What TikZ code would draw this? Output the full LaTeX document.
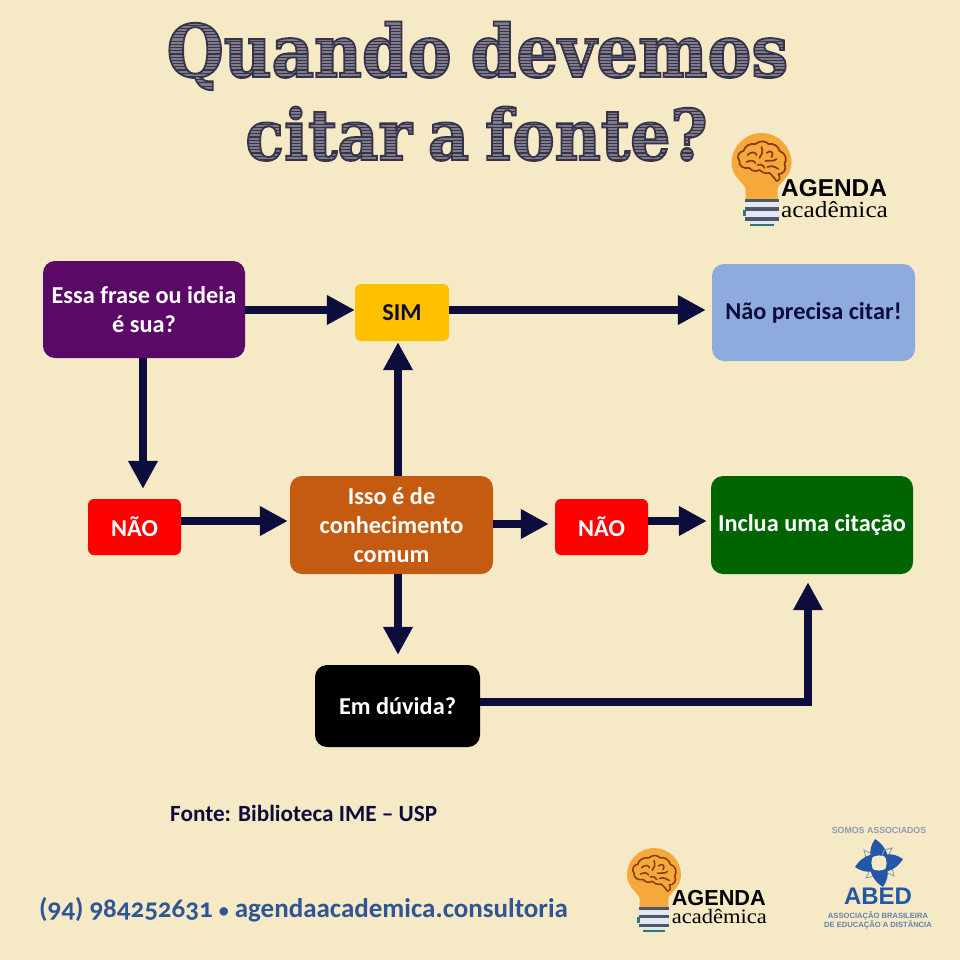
\documentclass[tikz,border=0pt]{standalone}
\usepackage{fontspec}
\usetikzlibrary{arrows.meta}
\newfontfamily\bodyf{Carlito}[Numbers=OldStyle]
\newfontfamily\lsans{Liberation Sans}
\newfontfamily\lserif{Liberation Serif}[FakeStretch=1.1]
\newfontfamily\titlef{DejaVu Serif Condensed}
\definecolor{paper}{HTML}{F5E9C6}
\definecolor{navy}{HTML}{0D0D3D}
\definecolor{bulb}{HTML}{F5A93A}
\definecolor{brain}{HTML}{8A3A12}
\definecolor{abed}{HTML}{2458A6}
\definecolor{abedgray}{HTML}{8E9DB4}
\definecolor{footblue}{HTML}{2F5597}
\definecolor{titlefill}{HTML}{7F7C8A}
\definecolor{bookdark}{HTML}{4A5A6C}
\definecolor{booklight}{HTML}{E6E6F2}
\definecolor{bookteal}{HTML}{2F7A6E}
\definecolor{frasecol}{HTML}{5A0A66}
\definecolor{simcol}{HTML}{FFC000}
\definecolor{naopcol}{HTML}{8FAADC}
\definecolor{issocol}{HTML}{C55A11}
\definecolor{incluacol}{HTML}{006400}
\newcommand{\hatched}[1]{\special{pdf:code q 6 Tr 1.8 w 0.21 0.20 0.29 RG}#1\special{pdf:code 0.21 0.20 0.29 RG 6000 w [1.1 2.1] 0 d 0 -3000 m 0 3000 l S Q}}
\tikzset{
  box/.style={rounded corners=12pt,draw=none,align=center,text=white,font=\bodyf\bfseries\fontsize{24.3}{29}\selectfont,inner sep=0pt},
  smallbox/.style={box,rounded corners=6pt},
  flow/.style={navy,line width=8pt,-{Triangle[length=28pt,width=28pt]}},
  titletext/.style={text=titlefill,font=\titlef\bfseries\fontsize{73}{73}\selectfont,anchor=base,inner sep=0pt},
  foot/.style={inner sep=0pt,anchor=base west},
}
\newcommand{\agendalogo}[6]{% cx, cy, scale, fs1, fs2, name
\begin{scope}[shift={(#1,#2)},scale=#3]
 \fill[bulb] (-16,38) -- (-16,26) .. controls (-17,20) and (-30,14) .. (-30,0) arc[start angle=180,end angle=360,radius=30] .. controls (30,14) and (17,20) .. (16,26) -- (16,38) -- cycle;
 \fill[booklight] (-17,37) rectangle (17,58);
 \fill[bookdark] (-17,35.5) rectangle (17,38.5);
 \fill[bookdark] (-17,44) rectangle (17,48);
 \fill[bookdark] (-17,54) rectangle (17,58);
 \fill[booklight] (-12,58) rectangle (12,61);
 \fill[bookteal] (-12,61) rectangle (12,63);
 \fill[bookteal] (-19,47) rectangle (-16,53);
 \draw[brain,line width=#3*1.7pt,line cap=round,line join=round]
   (-6,-19) .. controls (-1,-23) and (4,-22) .. (7,-19) .. controls (12,-20) and (17,-17) .. (18,-12)
   .. controls (24,-10) and (26,-4) .. (23,1) .. controls (26,6) and (21,12) .. (17,11)
   .. controls (19,15) and (18,18) .. (15,18) .. controls (13,15) and (11,13) .. (8,10)
   .. controls (3,11) and (0,9) .. (-2,7) .. controls (-6,9) and (-10,8) .. (-12,5)
   .. controls (-18,6) and (-23,3) .. (-22,-2) .. controls (-26,-6) and (-22,-12) .. (-18,-12)
   .. controls (-17,-17) and (-11,-20) .. (-6,-19)
   (-14,-8) .. controls (-10,-12) and (-6,-11) .. (-5,-8) (-15,-1) .. controls (-11,-3) and (-8,-3) .. (-6,0)
   (0,-16) .. controls (2,-11) and (0,-8) .. (-2,-5) (5,-10) .. controls (9,-14) and (13,-10) .. (10,-6) (4,-2) .. controls (8,-3) and (12,-1) .. (15,-4)
   (6,4) .. controls (10,2) and (14,4) .. (17,6) (-4,2) .. controls (-1,1) and (2,2) .. (3,5);
 \node[inner sep=0pt,anchor=base west,font=\lsans\bfseries\fontsize{#4}{#4}\selectfont] (#6a) at (19.5,33.5) {AGENDA};
 \node[inner sep=0pt,anchor=base west,font=\lserif\fontsize{#5}{#5}\selectfont] (#6b) at (19.5,54) {acadêmica};
\end{scope}}
\begin{document}
\begin{tikzpicture}[x=1pt,y=-1pt]
\useasboundingbox[fill=paper] (0,0) rectangle (960,960);
% title
\node[titletext] (t1) at (477.5,77) {\hatched{Quando\hskip -4pt{} devemos}};
\node[titletext,font=\titlef\bfseries\fontsize{70.5}{71}\selectfont] (t2) at (476.5,160) {\hatched{citar\hskip -6pt{} a\hskip -6pt{} fonte?}};
% boxes
\node[box,fill=frasecol,minimum width=202pt,minimum height=97pt] (frase) at (144,309.5) {Essa frase ou ideia\\é sua?};
\node[smallbox,fill=simcol,text=navy,minimum width=94pt,minimum height=57pt] (sim) at (402,312.5) {SIM};
\node[box,fill=naopcol,minimum width=203pt,minimum height=97pt,text=navy] (naop) at (813.5,312.5) {\raisebox{-1.5pt}{Não precisa citar!}};
\node[smallbox,fill=red,minimum width=93pt,minimum height=56pt] (nao1) at (134.5,527) {NÃO};
\node[box,fill=issocol,minimum width=203pt,minimum height=98pt] (isso) at (391.5,525) {Isso é de\\conhecimento\\comum};
\node[smallbox,fill=red,minimum width=93pt,minimum height=56pt] (nao2) at (601.5,527) {NÃO};
\node[box,fill=incluacol,minimum width=202pt,minimum height=98pt] (inclua) at (812,525) {\raisebox{-1.5pt}{Inclua uma citação}};
\node[box,fill=black,minimum width=165pt,minimum height=82pt] (duvida) at (397.5,706) {Em dúvida?};
% connectors
\draw[flow] ([yshift=-.5pt]frase.east) -- ([yshift=2.5pt]sim.west);
\draw[flow] ([yshift=2.5pt]sim.east) -- ([yshift=2.5pt,xshift=-6pt]naop.west);
\draw[flow] ([xshift=-1pt]frase.south) -- ([xshift=8.5pt,yshift=10pt]nao1.north);
\draw[flow] ([yshift=6pt]nao1.east) -- ([xshift=-2pt,yshift=4pt]isso.west);
\draw[flow] ([xshift=6.5pt]isso.north) -- ([xshift=-4pt,yshift=-1pt]sim.south);
\draw[flow] ([yshift=1pt]isso.east) -- ([xshift=-6pt,yshift=3pt]nao2.west);
\draw[flow] ([yshift=6pt]nao2.east) -- ([xshift=-4pt,yshift=4pt]inclua.west);
\draw[flow] ([xshift=6.5pt]isso.south) -- ([yshift=10pt,xshift=.5pt]duvida.north);
\draw[flow,line join=miter] ([yshift=4pt]duvida.east) -| ([xshift=-4pt,yshift=-8pt]inclua.south);
% footer
\node[foot,text=navy,font=\bodyf\bfseries\fontsize{23.2}{26}\selectfont] (fonte) at (170,821) {Fonte: Biblioteca IME – USP};
\node[foot,text=footblue,font=\bodyf\bfseries\fontsize{27}{30}\selectfont] (contato) at (39,917) {(94) 984252631 {\fontsize{20}{30}\selectfont •} agendaacademica.consultoria};
\agendalogo{761.5}{163}{1}{24.4}{23}{la}
\agendalogo{654}{875}{0.9}{21.7}{20.5}{lb}
% ABED
\node[inner sep=0pt,text=abedgray,font=\lsans\bfseries\fontsize{8.8}{9}\selectfont] (somos) at (879,830.5) {SOMOS ASSOCIADOS};
\begin{scope}[shift={(879,863)}]
\foreach \r in {0,90,180,270}{
 \draw[abedgray,line width=.9pt,rotate=\r] (-9,-10) -- (-15,-13) -- (-13,-5) -- (-7,-3);
 \fill[abed,rotate=\r] (-4,-24) .. controls (4,-19) and (8,-12) .. (9,-5) .. controls (3,-9) and (-4,-8) .. (-8,-5) .. controls (-10,-12) and (-8,-18) .. (-4,-24) -- cycle;
}
\end{scope}
\node[inner sep=0pt,anchor=base,text=abed,font=\lsans\bfseries\fontsize{24}{24}\selectfont] (abedn) at (878,904) {ABED};
\node[inner sep=0pt,text=abedgray!60!abed,font=\lsans\bfseries\fontsize{7.6}{8}\selectfont] (assoc) at (878,915.5) {ASSOCIAÇÃO BRASILEIRA};
\node[inner sep=0pt,text=abedgray!60!abed,font=\lsans\bfseries\fontsize{7.6}{8}\selectfont] (educ) at (878,925) {DE EDUCAÇÃO A DISTÂNCIA};
\end{tikzpicture}
\end{document}
